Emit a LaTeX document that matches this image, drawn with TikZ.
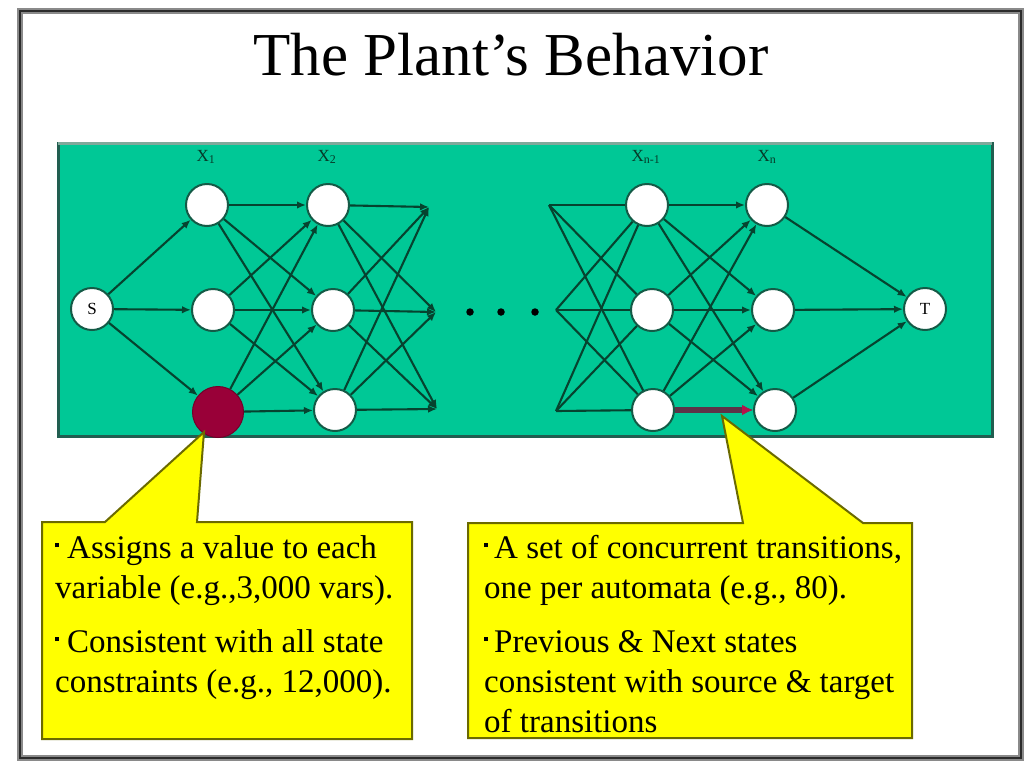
\documentclass[tikz,border=0pt]{standalone}
\usepackage{fontspec}
\setmainfont{Liberation Serif}
\usetikzlibrary{arrows.meta}

\definecolor{panel}{HTML}{00C896}
\definecolor{panelrim}{HTML}{215E50}
\definecolor{paneltop}{HTML}{7FA99B}
\definecolor{edgecol}{HTML}{06432F}
\definecolor{noderim}{HTML}{145A46}
\definecolor{labcol}{HTML}{063A28}
\definecolor{hot}{HTML}{990038}
\definecolor{hotedge}{HTML}{5C3347}
\definecolor{hottip}{HTML}{B5124A}
\definecolor{callfill}{HTML}{FFFF00}
\definecolor{callrim}{HTML}{6B6A00}
\definecolor{framecol}{HTML}{2B2B2B}
\definecolor{frameshade}{HTML}{8A8A8A}

% small square bullet used in the notes
\newcommand\notebullet[1]{\raisebox{11pt}{\rule{4pt}{4pt}}\hspace{#1}}

\begin{document}
\begin{tikzpicture}[x=1pt,y=-1pt,
  state/.style={circle, draw=noderim, line width=2pt, fill=white,
    minimum size=42pt, inner sep=0pt},
  chosen/.style={circle, draw=hot!75!black, line width=1pt, fill=hot,
    minimum size=51pt, inner sep=0pt},
  link/.style={draw=edgecol, line width=2.1pt, -{Latex[length=9pt,width=7.5pt]}},
  plain/.style={draw=edgecol, line width=2.1pt},
  hotlink/.style={draw=hotedge, line width=5.5pt,
    -{Latex[length=11pt,width=11pt,color=hottip]}},
  xlab/.style={inner sep=0pt, text=labcol, font=\fontsize{17}{17}\selectfont},
  tag/.style={inner sep=0pt, text=black, font=\fontsize{17}{17}\selectfont},
  callout/.style={fill=callfill, draw=callrim, line width=2pt, line join=miter},
  note/.style={anchor=base west, inner sep=0pt, text=black,
    font=\fontsize{33}{40}\selectfont},
  dot/.style={circle, fill=black, inner sep=0pt, minimum size=7.5pt}
]
% page and outer frame
\fill[white] (0,0) rectangle (1027,761);
\useasboundingbox (0,0) rectangle (1027,761);
\draw[frameshade, line width=6pt] (20,11) rectangle (1021,758);
\draw[framecol, line width=2.5pt] (20,11) rectangle (1021,758);

% title
\node[anchor=base, inner sep=0pt, font=\fontsize{61}{70}\selectfont] (title)
  at (511,75) {The Plant’s Behavior};

% green panel
\fill[panel] (58,143) rectangle (992,436);
\draw[panelrim, line width=3pt] (58,143) rectangle (992,436);
\draw[paneltop, line width=3pt] (58,143) -- (992,143);

% source and target
\node[state] (s) at (92,309) {};
\node[state] (t) at (925,309) {};
\node[tag] (slab) at (s) {S};
\node[tag] (tlab) at (t) {T};

% variable columns
\node[state] (p1) at (207,205) {};
\node[state] (p2) at (213,310) {};
\node[chosen] (p3) at (218,412) {};
\node[state] (q1) at (328,205) {};
\node[state] (q2) at (333,310) {};
\node[state] (q3) at (335,410) {};
\node[state] (u1) at (647,205) {};
\node[state] (u2) at (652,310) {};
\node[state] (u3) at (653,410) {};
\node[state] (v1) at (767,205) {};
\node[state] (v2) at (773,310) {};
\node[state] (v3) at (775,410) {};

% column labels
\node[xlab] (lx1) at (206,157) {X\textsubscript{1}};
\node[xlab] (lx2) at (327,157) {X\textsubscript{2}};
\node[xlab] (lx3) at (646,157) {X\textsubscript{n-1}};
\node[xlab] (lx4) at (767,157) {X\textsubscript{n}};

% loose ends around the elided columns
\coordinate (e1) at (429,207);
\coordinate (e2) at (436,312);
\coordinate (e3) at (437,409);
\coordinate (f1) at (549,205);
\coordinate (f2) at (556,310);
\coordinate (f3) at (556,411);

% ellipsis
\node[dot] (d1) at (470,312) {};
\node[dot] (d2) at (501,312) {};
\node[dot] (d3) at (535,312) {};

% transitions
\foreach \b in {1,2,3}{
  \draw[link] (s) -- (p\b);
  \draw[link] (v\b) -- (t);
}
\foreach \a in {1,2,3}{
  \foreach \b in {1,2,3}{
    \draw[link] (p\a) -- (q\b);
    \draw[link] (q\a) -- (e\b);
    \draw[plain] (f\a) -- (u\b);
    \draw[link] (u\a) -- (v\b);
  }
}
% the chosen concurrent transition
\draw[hotlink] (u3) -- (v3);

% notes
\coordinate (tip1) at (204,432);
\coordinate (tip2) at (722,416);
\filldraw[callout] (42,522) -- (105,522) -- (tip1) -- (197,522) -- (412,522)
  -- (412,739) -- (42,739) -- cycle;
\filldraw[callout] (468,523) -- (743,523) -- (tip2) -- (863,523) -- (912,523)
  -- (912,738) -- (468,738) -- cycle;

\node[note] (n1) at (55,558) {\notebullet{8pt}Assigns a value to each};
\node[note] (n2) at (55,598) {variable (e.g.,3,000 vars).};
\node[note] (n3) at (55,652) {\notebullet{8pt}Consistent with all state};
\node[note] (n4) at (55,692) {constraints (e.g., 12,000).};

\node[note] (m1) at (484,558) {\notebullet{6pt}A set of concurrent transitions,};
\node[note] (m2) at (484,598) {one per automata (e.g., 80).};
\node[note] (m3) at (484,652) {\notebullet{6pt}Previous \& Next states};
\node[note] (m4) at (484,692) {consistent with source \& target};
\node[note] (m5) at (484,732) {of transitions};
\end{tikzpicture}
\end{document}
